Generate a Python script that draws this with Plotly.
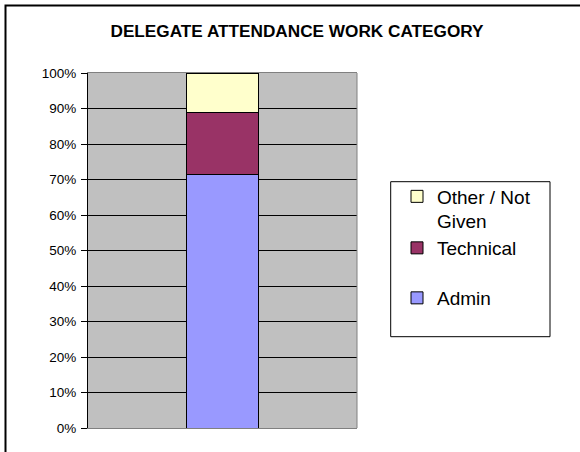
import plotly.graph_objects as go

# ---- data ----
categories = ["Delegates"]
series_names = ["Admin", "Technical", "Other / Not Given"]
legend_labels = ["Admin", "Technical", "Other / Not<br>Given"]
admin = [71.4]
technical = [17.6]
other = [11.0]
y_ticks = [0, 10, 20, 30, 40, 50, 60, 70, 80, 90, 100]
y_tick_labels = [f"{v}%" for v in y_ticks]
title_text = "DELEGATE ATTENDANCE WORK CATEGORY"

colors = ["#9999FF", "#993366", "#FFFFCC"]
values = [admin, technical, other]
legend_ids = ["legend3", "legend2", "legend"]
legend_tops = [279, 229, 177.5]   # pixel tops of each legend entry

W, H = 580, 452
L, R, T, B = 88, 223, 73, 24
pw, ph = W - L - R, H - T - B

def px_x(p):
    return (p - L) / pw

def px_y(p):
    return (H - B - p) / ph

fig = go.Figure()
for name, lab, vals, col, lid in zip(series_names, legend_labels, values, colors, legend_ids):
    fig.add_trace(go.Bar(
        x=categories, y=vals, name=lab, legend=lid,
        marker=dict(color=col, line=dict(color="black", width=1)),
        hoverinfo="skip",
    ))

font_family = "Liberation Sans, Arial, sans-serif"

def legend_cfg(top):
    return dict(
        x=px_x(397), y=px_y(top), xanchor="left", yanchor="top",
        xref="paper", yref="paper",
        valign="top",
        bgcolor="rgba(0,0,0,0)",
        borderwidth=0,
        font=dict(size=19, family=font_family, color="black"),
        itemclick=False, itemdoubleclick=False,
    )

fig.update_layout(
    width=W, height=H,
    margin=dict(l=L, r=R, t=T, b=B, pad=0),
    paper_bgcolor="white",
    plot_bgcolor="#C0C0C0",
    barmode="stack",
    bargap=0.729,
    showlegend=True,
    font=dict(family=font_family, color="black"),
    title=dict(
        text="<b>" + title_text + "</b>",
        font=dict(size=17.2, family=font_family, color="black"),
        x=px_x(297), xref="paper", xanchor="center",
        y=1 - 30.5 / H, yref="container", yanchor="middle",
    ),
    legend=legend_cfg(legend_tops[2]),
    legend2=legend_cfg(legend_tops[1]),
    legend3=legend_cfg(legend_tops[0]),
    xaxis=dict(
        showticklabels=False, ticks="", showgrid=False, zeroline=False,
        showline=True, linecolor="#808080", linewidth=1, mirror=True,
        fixedrange=True,
    ),
    yaxis=dict(
        range=[0, 100], tickmode="array", tickvals=y_ticks, ticktext=y_tick_labels,
        ticks="outside", ticklen=6, tickcolor="black", tickwidth=1,
        showgrid=True, gridcolor="black", gridwidth=1, zeroline=False,
        showline=True, linecolor="black", linewidth=1,
        tickfont=dict(size=13.5, family=font_family, color="black"),
        ticklabelstandoff=2,
        fixedrange=True,
    ),
    shapes=[
        # right edge of plot area (gray)
        dict(type="line", xref="paper", yref="paper", x0=1, x1=1, y0=0, y1=1,
             line=dict(color="#808080", width=1), layer="above"),
        # legend box
        dict(type="rect", xref="paper", yref="paper",
             x0=px_x(390.7), x1=px_x(550), y0=px_y(336.7), y1=px_y(181.7),
             line=dict(color="black", width=1), fillcolor="rgba(0,0,0,0)",
             layer="above"),
        # outer chart frame
        dict(type="rect", xref="paper", yref="paper",
             x0=px_x(5.5), x1=px_x(W + 5), y0=px_y(H + 5), y1=px_y(5.5),
             line=dict(color="black", width=2), fillcolor="rgba(0,0,0,0)",
             layer="above"),
    ],
)

fig.write_html(
    "out.html",
    config={"displayModeBar": False, "staticPlot": True},
    post_script="document.body.style.margin='0';document.body.style.padding='0';",
)
